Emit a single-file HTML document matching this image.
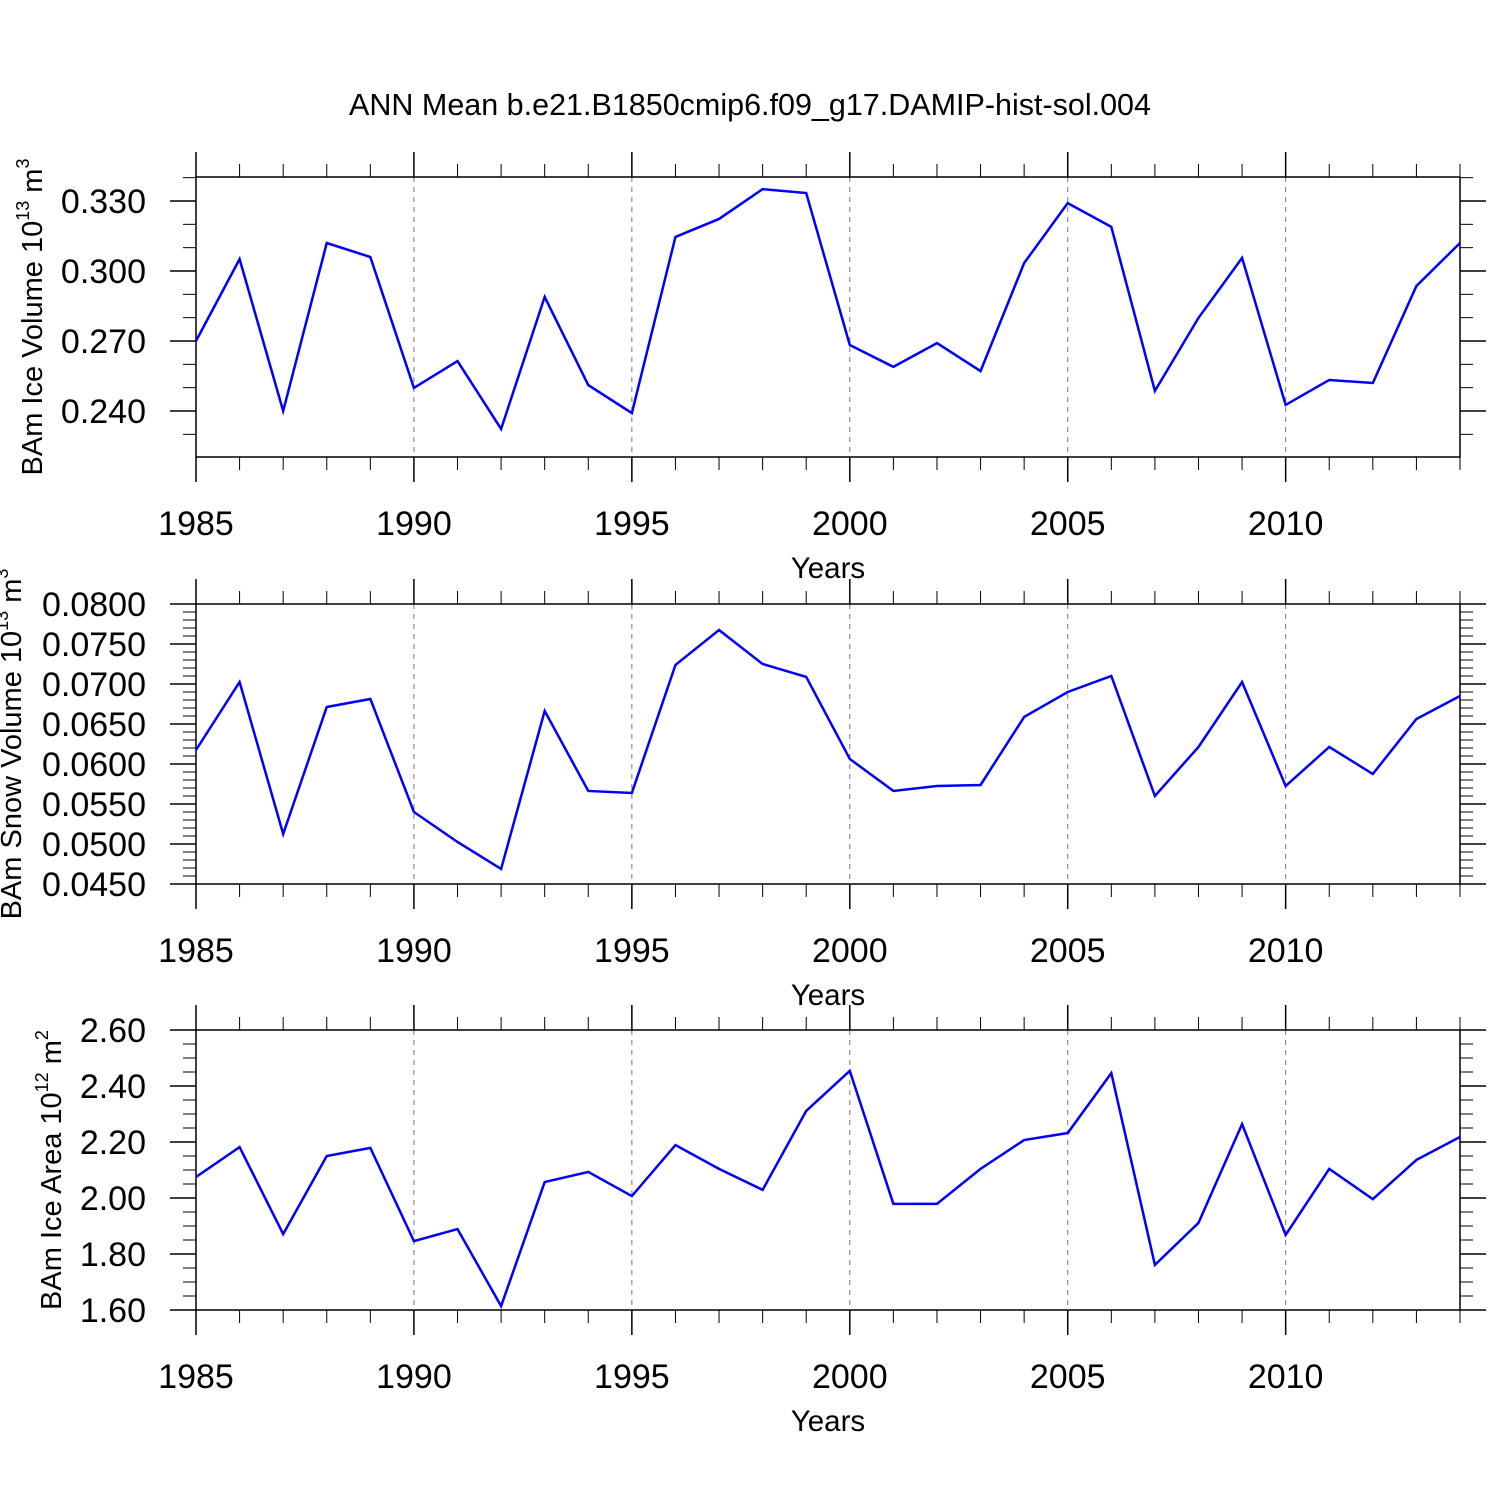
<!DOCTYPE html>
<html><head><meta charset="utf-8"><style>
html,body{margin:0;padding:0;background:#fff;}
svg text{font-family:"Liberation Sans",Arial,sans-serif;fill:#000;}
</style></head><body>
<svg id="chart" width="1500" height="1500" viewBox="0 0 1500 1500" xmlns="http://www.w3.org/2000/svg">
<rect width="1500" height="1500" fill="#fff"/>
<text x="750" y="115" font-size="30.5" text-anchor="middle">ANN Mean b.e21.B1850cmip6.f09_g17.DAMIP-hist-sol.004</text>
</svg>
<script>
const years = [1985,1986,1987,1988,1989,1990,1991,1992,1993,1994,1995,1996,1997,1998,1999,2000,2001,2002,2003,2004,2005,2006,2007,2008,2009,2010,2011,2012,2013,2014];
const iceVolume = [0.270,0.3051,0.240,0.312,0.306,0.2499,0.2614,0.2323,0.2889,0.2511,0.2391,0.3146,0.3223,0.3351,0.3334,0.2683,0.2589,0.2691,0.2571,0.3034,0.3291,0.3189,0.2486,0.2799,0.3056,0.2426,0.2533,0.2520,0.2936,0.312];
const snowVolume = [0.06175,0.07025,0.05125,0.06713,0.06813,0.054,0.05025,0.04688,0.06663,0.05663,0.05638,0.07238,0.07675,0.0725,0.07088,0.06063,0.05663,0.05725,0.05738,0.06588,0.069,0.071,0.056,0.06213,0.07025,0.05725,0.06213,0.05875,0.06563,0.0685];
const iceArea = [2.075,2.182,1.871,2.15,2.179,1.846,1.889,1.614,2.057,2.093,2.007,2.189,2.104,2.029,2.311,2.454,1.979,1.979,2.104,2.207,2.232,2.446,1.761,1.911,2.264,1.868,2.104,1.996,2.136,2.218];
const xTickLabels = ["1985","1990","1995","2000","2005","2010"];
const iceVolTicks = ["0.240","0.270","0.300","0.330"];
const snowVolTicks = ["0.0450","0.0500","0.0550","0.0600","0.0650","0.0700","0.0750","0.0800"];
const iceAreaTicks = ["1.60","1.80","2.00","2.20","2.40","2.60"];

const NS="http://www.w3.org/2000/svg";
const svg=document.getElementById('chart');
function mk(tag,attrs,parent){const e=document.createElementNS(NS,tag);for(const k in attrs)e.setAttribute(k,attrs[k]);(parent||svg).appendChild(e);return e;}
const X0=196,X1=1460,xMin=1985,xMax=2014;
const xs=v=>X0+(v-xMin)/(xMax-xMin)*(X1-X0);

const panels=[
 {name:'ice-volume',top:177,bot:457,ymin:0.220286,ymax:0.340286,ticks:iceVolTicks,minor:0.01,values:iceVolume,title:'BAm Ice Volume 10',sup:'13',unit:' m',usup:'3',tx:42,ty:317},
 {name:'snow-volume',top:604,bot:884,ymin:0.045,ymax:0.080,ticks:snowVolTicks,minor:0.001,values:snowVolume,title:'BAm Snow Volume 10',sup:'13',unit:' m',usup:'3',tx:21,ty:744},
 {name:'ice-area',top:1030,bot:1310,ymin:1.6,ymax:2.6,ticks:iceAreaTicks,minor:0.05,values:iceArea,title:'BAm Ice Area 10',sup:'12',unit:' m',usup:'2',tx:61,ty:1170}
];
panels.forEach(p=>{
 const g=mk('g',{});
 
 
 const ys=v=>p.bot-(v-p.ymin)/(p.ymax-p.ymin)*(p.bot-p.top);
 xTickLabels.forEach(t=>{const v=+t;if(v===xMin)return;const l=mk('line',{x1:xs(v),x2:xs(v),y1:p.top,y2:p.bot,stroke:'#777','stroke-width':1,'stroke-dasharray':'5,5'},g);
  });
 for(let y=xMin;y<=xMax;y++){const maj=(y%5===0);const len=maj?25:13;const x=xs(y);
  mk('line',{x1:x,x2:x,y1:p.top,y2:p.top-len,stroke:'#000','stroke-width':maj?1.5:1},g);
  mk('line',{x1:x,x2:x,y1:p.bot,y2:p.bot+len,stroke:'#000','stroke-width':maj?1.5:1},g);}
 xTickLabels.forEach(t=>{const tx=mk('text',{x:xs(+t),y:p.bot+78,'font-size':34,'text-anchor':'middle'},g);tx.textContent=t;
  });
 const xt=mk('text',{x:828,y:p.bot+121,'font-size':29.5,'text-anchor':'middle'},g);xt.textContent='Years';
 
 const start=Math.ceil(p.ymin/p.minor-1e-6);
 for(let i=start;i*p.minor<=p.ymax+1e-9;i++){const y=ys(i*p.minor);
  mk('line',{x1:X0,x2:X0-13,y1:y,y2:y,stroke:'#000','stroke-width':1},g);
  mk('line',{x1:X1,x2:X1+13,y1:y,y2:y,stroke:'#000','stroke-width':1},g);}
 p.ticks.forEach(t=>{const y=ys(+t);
  mk('line',{x1:X0,x2:X0-26,y1:y,y2:y,stroke:'#000','stroke-width':1.5},g);
  mk('line',{x1:X1,x2:X1+26,y1:y,y2:y,stroke:'#000','stroke-width':1.5},g);
  const tx=mk('text',{x:146,y:y+12,'font-size':34,'text-anchor':'end'},g);tx.textContent=t;
  });
 mk('rect',{x:X0,y:p.top,width:X1-X0,height:p.bot-p.top,fill:'none',stroke:'#000','stroke-width':1.5},g);
 const yt=mk('text',{x:p.tx,y:p.ty,'font-size':29,'text-anchor':'middle',transform:`rotate(-90 ${p.tx} ${p.ty})`},g);
 
 const a=mk('tspan',{},yt);a.textContent=p.title;
 const b=mk('tspan',{'font-size':18,dy:-13},yt);b.textContent=p.sup;
 const c=mk('tspan',{dy:13},yt);c.textContent=p.unit;
 const d=mk('tspan',{'font-size':18,dy:-13},yt);d.textContent=p.usup;
 const pts=years.map((yr,i)=>xs(yr)+','+ys(p.values[i])).join(' ');
 const pl=mk('polyline',{points:pts,fill:'none',stroke:'#0000ff','stroke-width':2.5,'stroke-linejoin':'miter'},g);
 
});
</script>
</body></html>
